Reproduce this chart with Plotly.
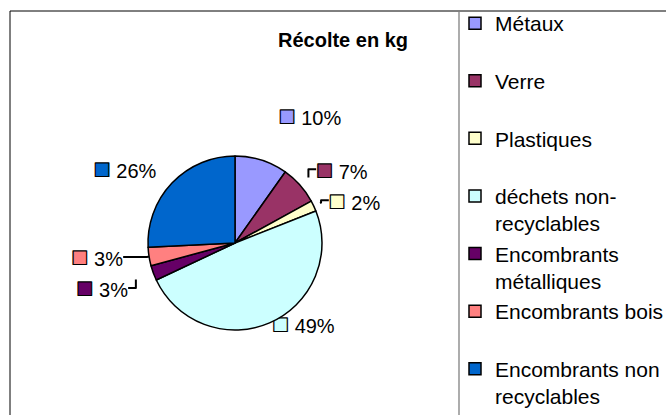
import plotly.graph_objects as go

categories = ["Métaux", "Verre", "Plastiques", "déchets non-<br>recyclables",
              "Encombrants<br>métalliques", "Encombrants bois", "Encombrants non<br>recyclables"]
shares = [9.8, 7.2, 2.0, 49.0, 2.8, 3.4, 25.8]
colors = ["#9999FF", "#993366", "#FFFFCC", "#CCFFFF", "#660066", "#FF8080", "#0066CC"]
title_text = "Récolte en kg"

# label distance tuning (style): extra radial offset of each percentage label
label_pull = [0.605, 0.33, 0.27, 0.0, 0.427, 0.173, 0.319]

# legend names: pad one-line entries to two lines so all entries take the same height
legend_names = [c if "<br>" in c else c + "<br> " for c in categories]
marks = ["<span style='color:%s;stroke:#000000;stroke-width:1.2px;font-size:28px'>■</span>" % c
         for c in colors]

W, H = 666, 415
FONT = "Arial, Liberation Sans, sans-serif"
CX, CY, R = 235, 243, 87      # pie centre / radius in px
RL = 74                       # base radius of the (transparent) label-carrier pie


def dom(r):
    return dict(x=[(CX - r) / W, (CX + r) / W], y=[(H - CY - r) / H, (H - CY + r) / H])


# visible pie
pie = go.Pie(
    labels=legend_names,
    values=shares,
    sort=False,
    direction="clockwise",
    rotation=0,
    marker=dict(colors=colors, line=dict(color="#000000", width=1.5)),
    textinfo="none",
    domain=dom(R),
    hoverinfo="label+percent",
)

# transparent pie that only carries the outside percentage labels
labels_pie = go.Pie(
    labels=legend_names,
    values=shares,
    sort=False,
    direction="clockwise",
    rotation=0,
    pull=label_pull,
    marker=dict(colors=["rgba(0,0,0,0)"] * len(shares), line=dict(width=0)),
    text=marks,
    texttemplate="%{text} %{percent:.0%}",
    textposition="outside",
    outsidetextfont=dict(family=FONT, size=20, color="#000000"),
    domain=dom(RL * (1 + max(label_pull))),
    showlegend=False,
    hoverinfo="skip",
)

fig = go.Figure([labels_pie, pie])

fig.update_layout(
    width=W, height=H,
    margin=dict(l=0, r=0, t=0, b=0, autoexpand=False),
    paper_bgcolor="#FFFFFF",
    plot_bgcolor="#FFFFFF",
    title=dict(text="<b>" + title_text + "</b>", x=343 / W, xanchor="center",
               y=1 - 40 / H, yanchor="middle",
               font=dict(family=FONT, size=20, color="#000000")),
    legend=dict(x=455 / W, xanchor="left", y=1 - 3 / H, yanchor="top",
                valign="top", font=dict(family=FONT, size=21, color="#000000"),
                bgcolor="rgba(0,0,0,0)", traceorder="normal"),
    shapes=[
        dict(type="line", xref="paper", yref="paper", x0=10 / W, x1=1, y0=1 - 11 / H, y1=1 - 11 / H,
             line=dict(color="#000000", width=1)),
        dict(type="line", xref="paper", yref="paper", x0=10 / W, x1=10 / W, y0=0, y1=1 - 11 / H,
             line=dict(color="#000000", width=1)),
        dict(type="line", xref="paper", yref="paper", x0=459 / W, x1=459 / W, y0=0, y1=1 - 11 / H,
             line=dict(color="#808080", width=1.3)),
    ],
)

fig.write_html("out.html", config={"displayModeBar": False},
               post_script="document.body.style.margin='0px';")
